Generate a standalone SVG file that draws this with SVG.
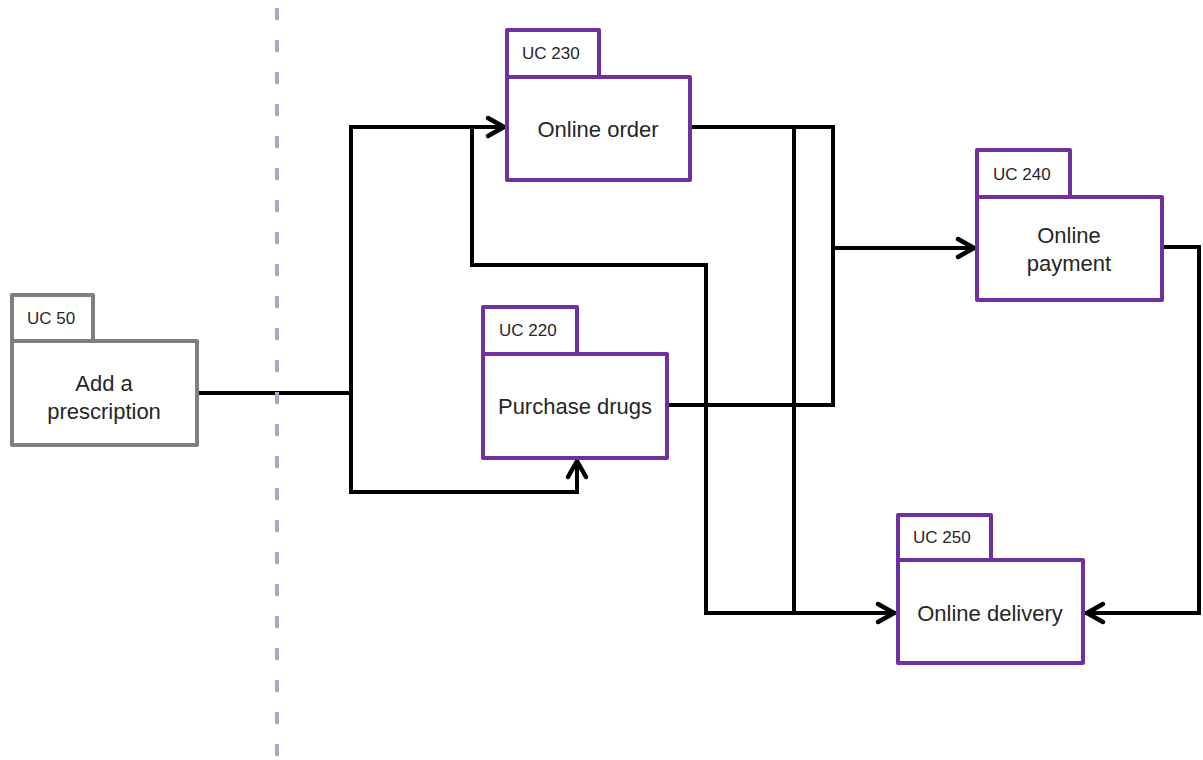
<svg xmlns="http://www.w3.org/2000/svg" width="1203" height="760" viewBox="0 0 1203 760">
  <style>
    .box { fill: #ffffff; stroke: #7030a0; stroke-width: 4; stroke-linejoin: round; }
    .grey { stroke: #7f7f7f; }
    .uc { font-family: "Liberation Sans", Arial, sans-serif; font-size: 17px; fill: #262626; }
    .lbl { font-family: "Liberation Sans", Arial, sans-serif; font-size: 22px; fill: #262626; text-anchor: middle; }
    .wire { fill: none; stroke: #000000; stroke-width: 4; stroke-linejoin: miter; stroke-linecap: square; }
    .arrow { fill: none; stroke: #000000; stroke-width: 4.5; stroke-linecap: round; stroke-linejoin: round; }
    .sep { stroke: #aea8cc; stroke-width: 4; stroke-dasharray: 12 20; }
  </style>
  <defs>
    <marker id="ah" viewBox="-22 -13 26 26" refX="0" refY="0" markerWidth="26" markerHeight="26" markerUnits="userSpaceOnUse" orient="auto">
      <path class="arrow" d="M-16,-9 L0,0 L-16,9"/>
    </marker>
  </defs>

  <rect width="1203" height="760" fill="#ffffff"/>

  <g id="connectors">
    <path class="wire" d="M197,393 H351"/>
    <path class="wire" d="M351,127 V492"/>
    <path class="wire" d="M351,127 H504" marker-end="url(#ah)"/>
    <path class="wire" d="M351,492 H577 V461" marker-end="url(#ah)"/>
    <path class="wire" d="M472,127 V265 H706 V613 H894" marker-end="url(#ah)"/>
    <path class="wire" d="M690,127 H833 V405 H667"/>
    <path class="wire" d="M794,127 V613"/>
    <path class="wire" d="M833,248 H974" marker-end="url(#ah)"/>
    <path class="wire" d="M1162,247 H1199 V613 H1087" marker-end="url(#ah)"/>
  </g>

  <g id="uc50">
    <rect class="box grey" x="12" y="295" width="81" height="46"/>
    <rect class="box grey" x="12" y="341" width="185" height="104"/>
    <text class="uc" x="27" y="324">UC 50</text>
    <text class="lbl" x="104" y="391">Add a</text>
    <text class="lbl" x="104" y="419">prescription</text>
  </g>

  <g id="uc230">
    <rect class="box" x="507" y="30" width="92" height="47"/>
    <rect class="box" x="507" y="77" width="183" height="103"/>
    <text class="uc" x="522" y="59">UC 230</text>
    <text class="lbl" x="598" y="137">Online order</text>
  </g>

  <g id="uc240">
    <rect class="box" x="977" y="150" width="93" height="47"/>
    <rect class="box" x="977" y="197" width="185" height="103"/>
    <text class="uc" x="993" y="180">UC 240</text>
    <text class="lbl" x="1069" y="243">Online</text>
    <text class="lbl" x="1069" y="271">payment</text>
  </g>

  <g id="uc220">
    <rect class="box" x="483" y="307" width="94" height="47"/>
    <rect class="box" x="483" y="354" width="184" height="104"/>
    <text class="uc" x="499" y="336">UC 220</text>
    <text class="lbl" x="575" y="414">Purchase drugs</text>
  </g>

  <g id="uc250">
    <rect class="box" x="898" y="515" width="93" height="45"/>
    <rect class="box" x="898" y="560" width="185" height="103"/>
    <text class="uc" x="913" y="543">UC 250</text>
    <text class="lbl" x="990" y="621">Online delivery</text>
  </g>

  <line id="separator" class="sep" x1="277" y1="8" x2="277" y2="760"/>
</svg>
